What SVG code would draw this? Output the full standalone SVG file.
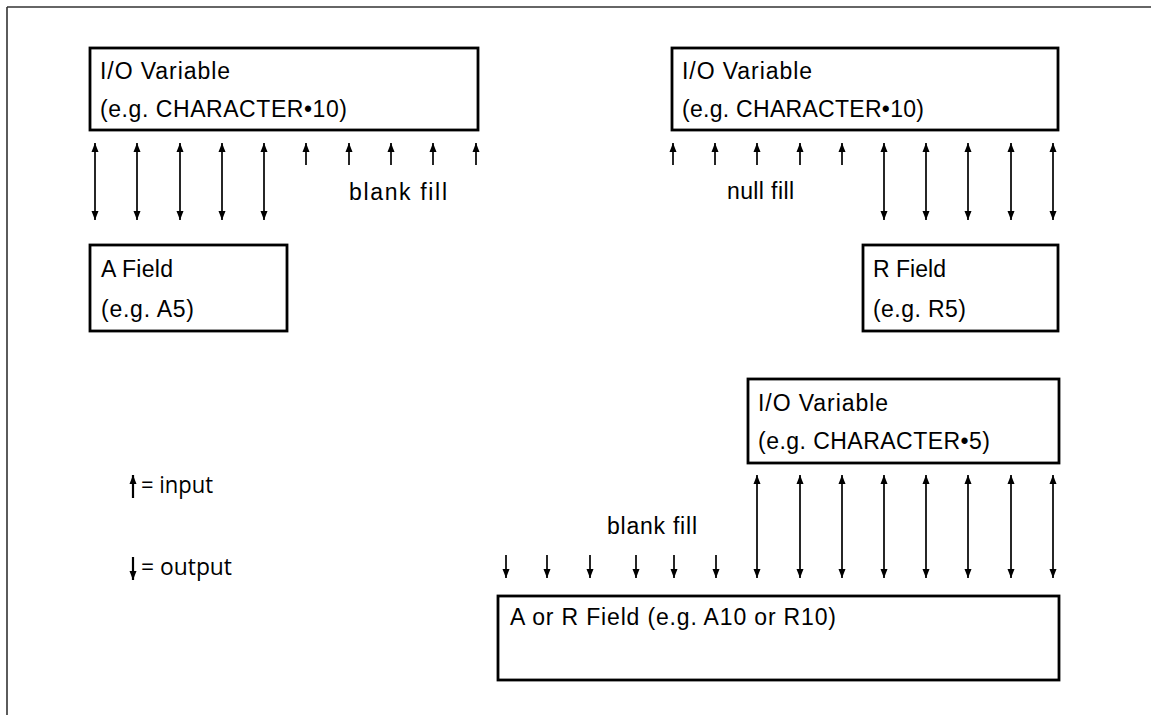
<svg xmlns="http://www.w3.org/2000/svg" width="1151" height="715" viewBox="0 0 1151 715">
<style>
.frame{stroke:#333;stroke-width:1.6;fill:none}
.box{fill:none;stroke:#000;stroke-width:2.8}
.t{font-family:"Liberation Sans",Arial,sans-serif;font-size:23px;fill:#000}
.lg{font-family:"Open Sans","Liberation Sans",sans-serif;font-size:23px;fill:#000}
.a{stroke:#000;stroke-width:1.7;fill:none}
.lga{stroke:#000;stroke-width:2.2;fill:none}
.d{marker-start:url(#ah);marker-end:url(#ah)}
.s{marker-end:url(#ah)}
</style>
<defs>
<marker id="ah" markerUnits="userSpaceOnUse" markerWidth="10" markerHeight="9" refX="9" refY="4.5" orient="auto-start-reverse" viewBox="0 0 10 9">
<path d="M0,1 L9,4.5 L0,8 z" fill="#000"/>
</marker>
</defs>
<rect width="1151" height="715" fill="#fff"/>
<g id="frame">
<line class="frame" x1="7" y1="7" x2="1151" y2="7"/>
<line class="frame" x1="7" y1="7" x2="7" y2="715"/>
</g>
<g id="io-var-a">
<rect class="box" x="90" y="48" width="388" height="82"/>
<text class="t" x="100" y="79" textLength="130" lengthAdjust="spacing">I/O Variable</text>
<text class="t" x="100" y="117" textLength="247" lengthAdjust="spacing">(e.g. CHARACTER•10)</text>
</g>
<g id="io-var-r">
<rect class="box" x="672" y="48" width="386" height="82"/>
<text class="t" x="682" y="79" textLength="130" lengthAdjust="spacing">I/O Variable</text>
<text class="t" x="682" y="117" textLength="242" lengthAdjust="spacing">(e.g. CHARACTER•10)</text>
</g>
<g id="a-field">
<rect class="box" x="90" y="245" width="197" height="86"/>
<text class="t" x="101" y="277" textLength="72" lengthAdjust="spacing">A Field</text>
<text class="t" x="101" y="317" textLength="93" lengthAdjust="spacing">(e.g. A5)</text>
</g>
<g id="r-field">
<rect class="box" x="863" y="245" width="195" height="86"/>
<text class="t" x="873" y="277" textLength="73" lengthAdjust="spacing">R Field</text>
<text class="t" x="873" y="317" textLength="93" lengthAdjust="spacing">(e.g. R5)</text>
</g>
<g id="io-var-5">
<rect class="box" x="748" y="379" width="311" height="84"/>
<text class="t" x="758" y="411" textLength="130" lengthAdjust="spacing">I/O Variable</text>
<text class="t" x="758" y="449" textLength="232" lengthAdjust="spacing">(e.g. CHARACTER•5)</text>
</g>
<g id="ar-field">
<rect class="box" x="498" y="596" width="561" height="84"/>
<text class="t" x="510" y="625" textLength="326" lengthAdjust="spacing">A or R Field (e.g. A10 or R10)</text>
</g>
<g id="labels">
<text class="t" x="349" y="200" textLength="98" lengthAdjust="spacing">blank fill</text>
<text class="t" x="727" y="199" textLength="67" lengthAdjust="spacing">null fill</text>
<text class="t" x="607" y="534" textLength="90" lengthAdjust="spacing">blank fill</text>
</g>
<g id="legend">
<line class="lga s" x1="133" y1="498" x2="133" y2="475"/>
<line class="lga s" x1="133" y1="557" x2="133" y2="580"/>
<text class="lg" x="141" y="493" textLength="72" lengthAdjust="spacingAndGlyphs">= input</text>
<text class="lg" x="141" y="575" textLength="91" lengthAdjust="spacingAndGlyphs">= output</text>
</g>
<g id="connectors">
<line class="a d" x1="95" y1="143" x2="95" y2="220"/>
<line class="a d" x1="137" y1="143" x2="137" y2="220"/>
<line class="a d" x1="180" y1="143" x2="180" y2="220"/>
<line class="a d" x1="222" y1="143" x2="222" y2="220"/>
<line class="a d" x1="264" y1="143" x2="264" y2="220"/>
<line class="a s" x1="306" y1="165" x2="306" y2="143"/>
<line class="a s" x1="349" y1="165" x2="349" y2="143"/>
<line class="a s" x1="391" y1="165" x2="391" y2="143"/>
<line class="a s" x1="433" y1="165" x2="433" y2="143"/>
<line class="a s" x1="476" y1="165" x2="476" y2="143"/>
<line class="a s" x1="673" y1="165" x2="673" y2="143"/>
<line class="a s" x1="715" y1="165" x2="715" y2="143"/>
<line class="a s" x1="757" y1="165" x2="757" y2="143"/>
<line class="a s" x1="800" y1="165" x2="800" y2="143"/>
<line class="a s" x1="842" y1="165" x2="842" y2="143"/>
<line class="a d" x1="884" y1="143" x2="884" y2="220"/>
<line class="a d" x1="926" y1="143" x2="926" y2="220"/>
<line class="a d" x1="968" y1="143" x2="968" y2="220"/>
<line class="a d" x1="1011" y1="143" x2="1011" y2="220"/>
<line class="a d" x1="1053" y1="143" x2="1053" y2="220"/>
<line class="a s" x1="506" y1="555" x2="506" y2="578"/>
<line class="a s" x1="547" y1="555" x2="547" y2="578"/>
<line class="a s" x1="590" y1="555" x2="590" y2="578"/>
<line class="a s" x1="636" y1="555" x2="636" y2="578"/>
<line class="a s" x1="674" y1="555" x2="674" y2="578"/>
<line class="a s" x1="716" y1="555" x2="716" y2="578"/>
<line class="a d" x1="757" y1="475" x2="757" y2="578"/>
<line class="a d" x1="800" y1="475" x2="800" y2="578"/>
<line class="a d" x1="842" y1="475" x2="842" y2="578"/>
<line class="a d" x1="884" y1="475" x2="884" y2="578"/>
<line class="a d" x1="926" y1="475" x2="926" y2="578"/>
<line class="a d" x1="968" y1="475" x2="968" y2="578"/>
<line class="a d" x1="1011" y1="475" x2="1011" y2="578"/>
<line class="a d" x1="1053" y1="475" x2="1053" y2="578"/>
</g>
</svg>
